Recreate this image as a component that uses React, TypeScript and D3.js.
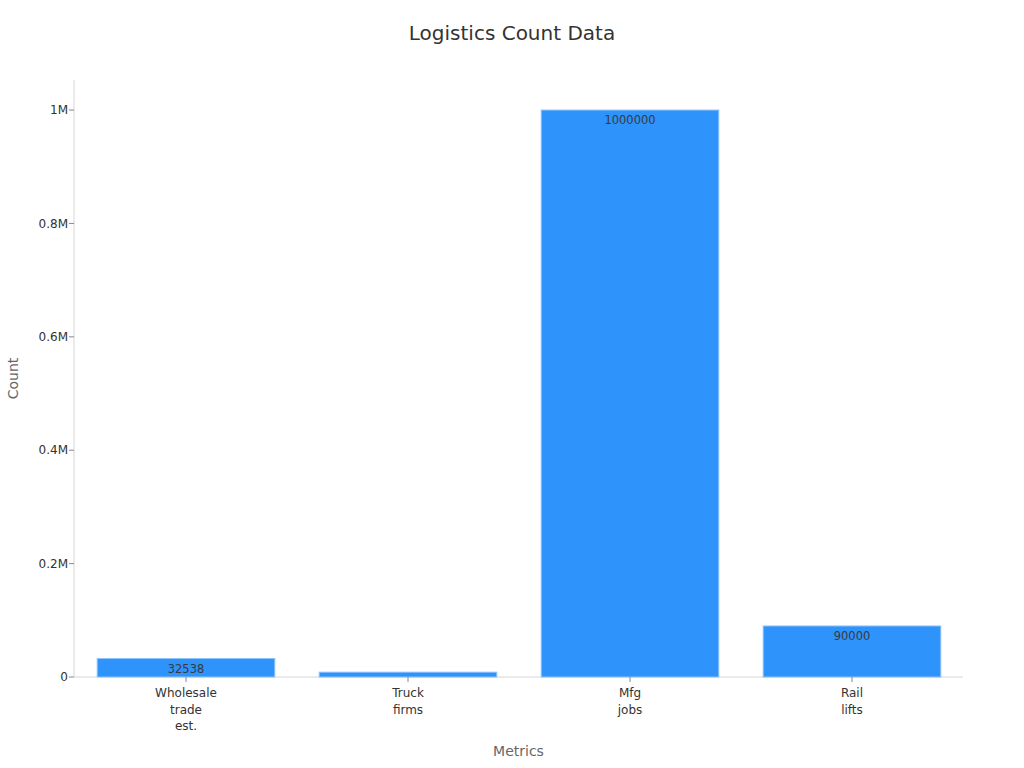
import { useRef, useEffect } from 'react';
import * as d3 from 'd3';

const categories = ['Wholesale trade est.', 'Truck firms', 'Mfg jobs', 'Rail lifts'];
const categoryLines = [['Wholesale', 'trade', 'est.'], ['Truck', 'firms'], ['Mfg', 'jobs'], ['Rail', 'lifts']];
const counts = [32538, 8500, 1000000, 90000];
const yTicks = [0, 200000, 400000, 600000, 800000, 1000000];

const W = 1024;
const H = 768;
const margin = { top: 80, right: 61, bottom: 91, left: 74 };
const font = '"DejaVu Sans", sans-serif';

const App = () => {
  const svgRef = useRef<SVGSVGElement>(null);

  useEffect(() => {
    const svg = d3.select(svgRef.current);
    svg.selectAll('*').remove();

    const x = d3.scaleBand<string>()
      .domain(categories)
      .range([margin.left + 1, W - margin.right])
      .paddingInner(0.2)
      .paddingOuter(0.1);

    const y = d3.scaleLinear()
      .domain([0, 1053000])
      .range([H - margin.bottom, margin.top]);

    // Title
    svg.append('text')
      .attr('x', W / 2).attr('y', 40)
      .attr('text-anchor', 'middle')
      .attr('font-family', font)
      .attr('font-size', 20)
      .attr('fill', '#333')
      .text('Logistics Count Data');

    // Axis lines
    svg.append('line')
      .attr('x1', margin.left).attr('x2', margin.left)
      .attr('y1', margin.top).attr('y2', H - margin.bottom)
      .attr('stroke', '#d6d6d6');
    svg.append('line')
      .attr('x1', margin.left).attr('x2', W - margin.right)
      .attr('y1', H - margin.bottom).attr('y2', H - margin.bottom)
      .attr('stroke', '#d6d6d6');

    // Y ticks
    const fmt = (v: number) => (v === 0 ? '0' : `${v / 1e6}M`);
    yTicks.forEach((t) => {
      svg.append('line')
        .attr('x1', margin.left - 5).attr('x2', margin.left)
        .attr('y1', y(t)).attr('y2', y(t))
        .attr('stroke', '#888');
      svg.append('text')
        .attr('x', margin.left - 6).attr('y', y(t))
        .attr('dy', '0.35em')
        .attr('text-anchor', 'end')
        .attr('font-family', font)
        .attr('font-size', 12)
        .attr('fill', '#333')
        .text(fmt(t));
    });

    // Bars
    const defs = svg.append('defs');
    categories.forEach((c, i) => {
      const x0 = x(c)!;
      const bw = x.bandwidth();
      const y0 = y(counts[i]);
      const h = y(0) - y0;

      defs.append('clipPath').attr('id', `clip-${i}`)
        .append('rect')
        .attr('x', x0).attr('y', y0)
        .attr('width', bw).attr('height', h);

      svg.append('rect')
        .attr('x', x0).attr('y', y0)
        .attr('width', bw).attr('height', h)
        .attr('fill', '#2e93fa')
        .attr('stroke', '#8cc2fb')
        .attr('stroke-width', 1);

      svg.append('text')
        .attr('clip-path', `url(#clip-${i})`)
        .attr('x', x0 + bw / 2).attr('y', y0 + 14)
        .attr('text-anchor', 'middle')
        .attr('font-family', font)
        .attr('font-size', h < 10 ? 6 : 11.5)
        .attr('fill', '#3a3a3a')
        .text(String(counts[i]));

      // x tick + label
      const cx = x0 + bw / 2;
      svg.append('line')
        .attr('x1', cx).attr('x2', cx)
        .attr('y1', y(0)).attr('y2', y(0) + 5)
        .attr('stroke', '#888');
      categoryLines[i].forEach((line, j) => {
        svg.append('text')
          .attr('x', cx).attr('y', y(0) + 20 + j * 16.5)
          .attr('text-anchor', 'middle')
          .attr('font-family', font)
          .attr('font-size', 12)
          .attr('fill', '#333')
          .text(line);
      });
    });

    // Axis titles
    svg.append('text')
      .attr('x', (margin.left + W - margin.right) / 2).attr('y', 756)
      .attr('text-anchor', 'middle')
      .attr('font-family', font)
      .attr('font-size', 14)
      .attr('fill', '#666')
      .text('Metrics');
    svg.append('text')
      .attr('transform', `translate(18,${(margin.top + H - margin.bottom) / 2}) rotate(-90)`)
      .attr('text-anchor', 'middle')
      .attr('font-family', font)
      .attr('font-size', 14)
      .attr('fill', '#666')
      .text('Count');
  }, []);

  return (
    <svg
      ref={svgRef}
      width={W}
      height={H}
      style={{ position: 'absolute', left: 0, top: 0, background: '#fff' }}
    />
  );
};

export default App;
